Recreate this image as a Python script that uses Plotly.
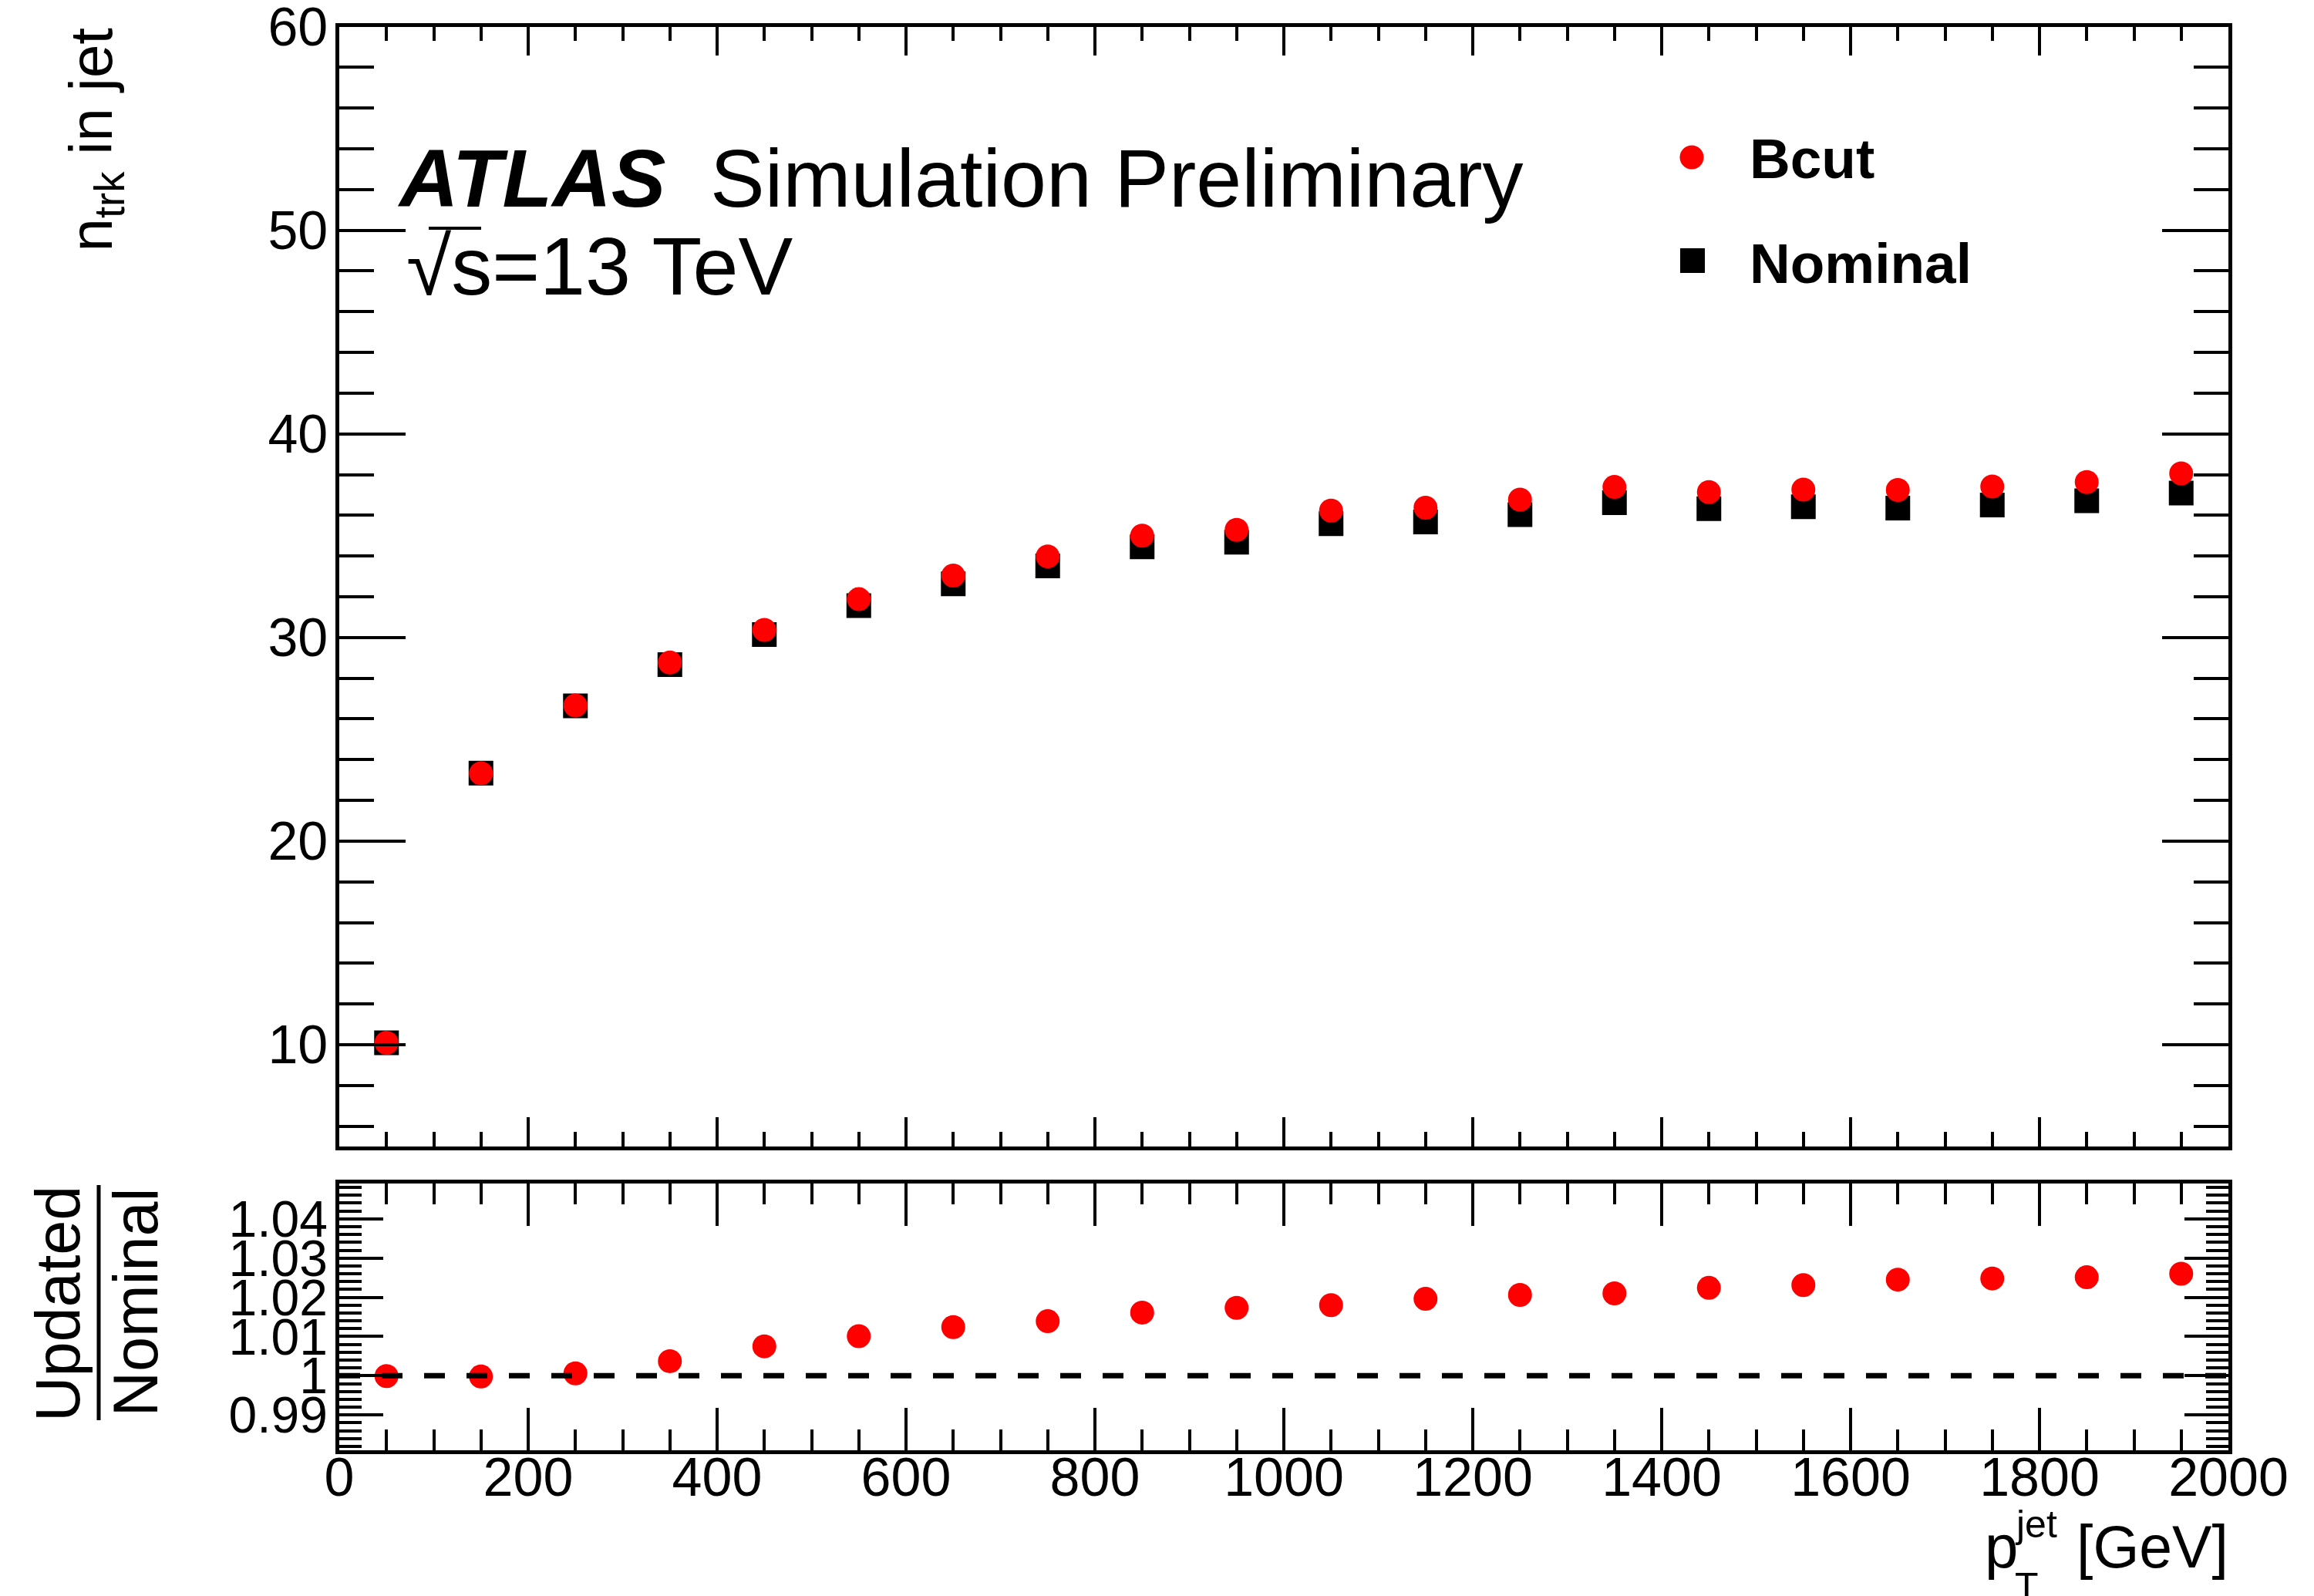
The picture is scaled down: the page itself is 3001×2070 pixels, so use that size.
import plotly.graph_objects as go

# ---- data -------------------------------------------------------------
pt_jet = [50, 150, 250, 350, 450, 550, 650, 750, 850, 950,
          1050, 1150, 1250, 1350, 1450, 1550, 1650, 1750, 1850, 1950]

# mean number of tracks in jet, B-cut (updated) selection
ntrk_bcut = [10.09, 23.33, 26.66, 28.77, 30.37, 31.88, 33.04, 33.98, 35.00, 35.28,
             36.23, 36.37, 36.77, 37.39, 37.14, 37.26, 37.24, 37.41, 37.63, 38.06]

# updated / nominal ratio
ratio_updated_nominal = [0.9999, 0.9998, 1.0006, 1.0037, 1.0075, 1.0101, 1.0124, 1.0139, 1.0161, 1.0173,
                         1.0180, 1.0196, 1.0206, 1.0210, 1.0224, 1.0231, 1.0245, 1.0248, 1.0251, 1.0260]

ntrk_nominal = [b / r for b, r in zip(ntrk_bcut, ratio_updated_nominal)]

ratio_ticks = [0.99, 1.0, 1.01, 1.02, 1.03, 1.04]
ratio_ticktext = ["0.99", "1", "1.01", "1.02", "1.03", "1.04"]

# ---- page geometry (pixels) -------------------------------------------
W, H = 3001, 2070
FONT = "Liberation Sans"
RED = "#ff0000"


def fx(px):
    return px / W


def fy(py):
    return 1 - py / H


X_DOM = [fx(440), fx(2890)]
MAIN_DOM = [fy(1487), fy(34.5)]
RATIO_DOM = [fy(1881), fy(1535)]

fig = go.Figure()

fig.add_trace(go.Scatter(
    x=pt_jet, y=ntrk_nominal, mode="markers", xaxis="x", yaxis="y",
    marker=dict(symbol="square", size=32, color="black", line=dict(width=0)),
    name="Nominal", showlegend=False,
))
fig.add_trace(go.Scatter(
    x=pt_jet, y=ntrk_bcut, mode="markers", xaxis="x", yaxis="y",
    marker=dict(symbol="circle", size=31, color=RED, line=dict(width=0)),
    name="Bcut", showlegend=False,
))
fig.add_trace(go.Scatter(
    x=pt_jet, y=ratio_updated_nominal, mode="markers", xaxis="x2", yaxis="y2",
    marker=dict(symbol="circle", size=31, color=RED, line=dict(width=0)),
    name="Updated/Nominal", showlegend=False,
))

axis_common = dict(
    showline=True, linecolor="black", linewidth=4.5, mirror="ticks",
    ticks="inside", tickcolor="black", tickwidth=4,
    showgrid=False, zeroline=False, automargin=False,
    ticklabeloverflow="allow",
)

fig.update_layout(
    width=W, height=H,
    margin=dict(l=0, r=0, t=0, b=0),
    paper_bgcolor="white", plot_bgcolor="white",
    font=dict(family=FONT, color="black"),
    xaxis=dict(
        **axis_common, domain=X_DOM, anchor="y", range=[0, 2000],
        tick0=0, dtick=200, ticklen=38, showticklabels=False,
        minor=dict(ticks="inside", tick0=0, dtick=50, ticklen=19,
                   tickwidth=4, tickcolor="black", showgrid=False),
    ),
    yaxis=dict(
        **axis_common, domain=MAIN_DOM, anchor="x", range=[5, 60],
        tick0=0, dtick=10, ticklen=86,
        tickfont=dict(size=70, family=FONT), ticklabelstandoff=-4,
        minor=dict(ticks="inside", tick0=0, dtick=2, ticklen=45,
                   tickwidth=4, tickcolor="black", showgrid=False),
    ),
    xaxis2=dict(
        **axis_common, domain=X_DOM, anchor="y2", range=[0, 2000],
        tick0=0, dtick=200, ticklen=55,
        tickfont=dict(size=70, family=FONT), ticklabelstandoff=-30,
        minor=dict(ticks="inside", tick0=0, dtick=50, ticklen=27,
                   tickwidth=4, tickcolor="black", showgrid=False),
    ),
    yaxis2=dict(
        **axis_common, domain=RATIO_DOM, anchor="x2", range=[0.981, 1.049],
        tickmode="array", tickvals=ratio_ticks, ticktext=ratio_ticktext, ticklen=57,
        tickfont=dict(size=66, family=FONT), ticklabelstandoff=-3,
        minor=dict(ticks="inside", tickmode="linear", tick0=0.98, dtick=0.002, ticklen=29,
                   tickwidth=4, tickcolor="black", showgrid=False),
    ),
)

# reference line at ratio = 1
fig.add_shape(type="line", xref="x2", yref="y2", x0=0, x1=2000, y0=1, y1=1,
              line=dict(color="black", width=7, dash="27px,28px"), layer="above")

annotations = []


def text(x, y, s, size, xanchor="left", yanchor="middle", angle=0, **kw):
    annotations.append(dict(
        x=fx(x), y=fy(y), xref="paper", yref="paper", text=s, showarrow=False,
        xanchor=xanchor, yanchor=yanchor, textangle=angle, borderpad=0,
        font=dict(size=size, family=FONT, color="black"), **kw))


# ATLAS label
text(514, 231, "<b><i>ATLAS</i></b>", 106)
text(920, 231, "Simulation Preliminary", 106)
text(526, 345, "√s=13 TeV", 106)
# overline of the square root
fig.add_shape(type="line", xref="paper", yref="paper",
              x0=fx(556), x1=fx(624), y0=fy(296), y1=fy(296),
              line=dict(color="black", width=4))

# legend
text(2268, 205, "<b>Bcut</b>", 73)
text(2268, 341, "<b>Nominal</b>", 73)
fig.add_shape(type="circle", xref="paper", yref="paper",
              xsizemode="pixel", ysizemode="pixel",
              xanchor=fx(2194), yanchor=fy(204), x0=-15.5, x1=15.5, y0=-15.5, y1=15.5,
              fillcolor=RED, line=dict(width=0))
fig.add_shape(type="rect", xref="paper", yref="paper",
              xsizemode="pixel", ysizemode="pixel",
              xanchor=fx(2195), yanchor=fy(338), x0=-16, x1=16, y0=-16, y1=16,
              fillcolor="black", line=dict(width=0))

# y-axis titles
text(123, 35, "n<sub>trk</sub> in jet", 78, xanchor="center", yanchor="top", angle=-90)
text(75, 1537, "Updated", 81, xanchor="center", yanchor="top", angle=-90)
text(175, 1540, "Nominal", 81, xanchor="center", yanchor="top", angle=-90)
fig.add_shape(type="line", xref="paper", yref="paper",
              x0=fx(128), x1=fx(128), y0=fy(1537), y1=fy(1842),
              line=dict(color="black", width=5))

# x-axis title
text(2573, 2006, "p", 78)
text(2612, 1977, "jet", 50)
text(2612, 2058, "T", 50)
text(2891, 2006, "[GeV]", 77, xanchor="right")

fig.update_layout(annotations=annotations)

fig.write_html("out.html")
